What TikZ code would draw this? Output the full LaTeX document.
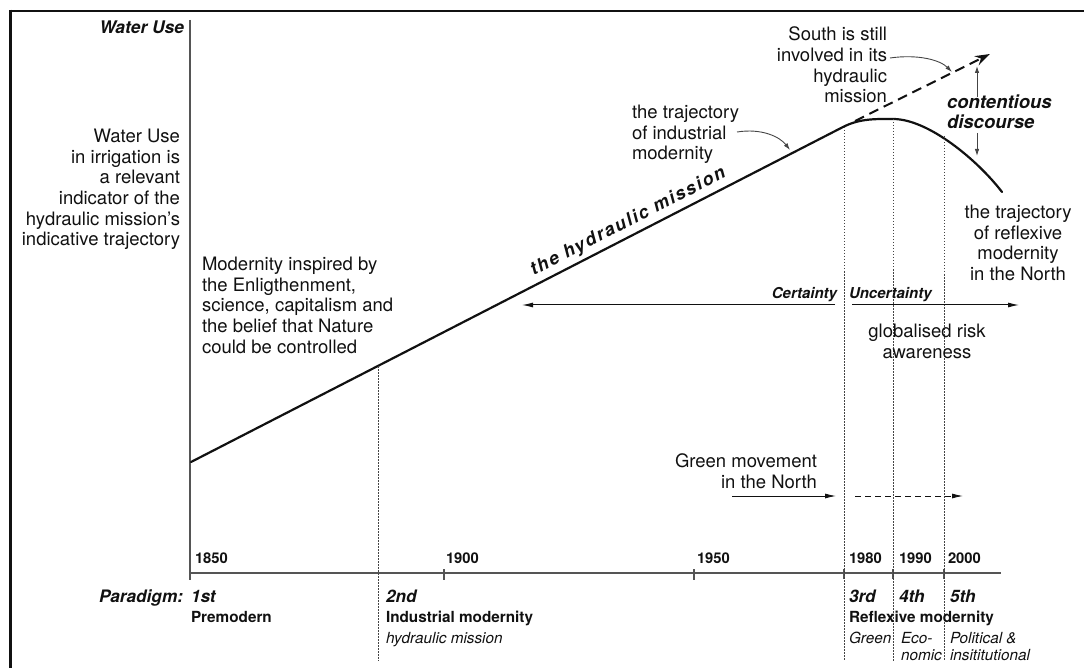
\documentclass[tikz,border=0pt]{standalone}
\usepackage{fontspec}
\setmainfont{TeX Gyre Heros}
\usetikzlibrary{arrows.meta}
\definecolor{ink}{HTML}{111111}
\definecolor{axisgray}{HTML}{555555}
\definecolor{guide}{HTML}{444444}

\begin{document}
\begin{tikzpicture}[x=1pt,y=-1pt,
  every node/.style={inner sep=0pt, outer sep=0pt, text=ink},
  body/.style={font=\fontsize{18.5}{20.7}\selectfont},
  bodybi/.style={font=\fontsize{18.5}{19.5}\selectfont\bfseries\itshape},
  axistitle/.style={font=\fontsize{17.4}{20}\selectfont\bfseries\itshape},
  yearlbl/.style={font=\fontsize{14.8}{17}\selectfont\bfseries, anchor=base west},
  ordinal/.style={font=\fontsize{17.2}{20}\selectfont\bfseries\itshape, anchor=base west},
  eralbl/.style={font=\fontsize{15.3}{17}\selectfont\bfseries, anchor=base west},
  notelbl/.style={font=\fontsize{15.3}{16.5}\selectfont\itshape, align=left, anchor=north west},
  riskside/.style={font=\fontsize{15}{17}\selectfont\bfseries\itshape},
  trend/.style={line width=2.2pt, draw=ink, line cap=round},
  axisline/.style={line width=1.1pt, draw=axisgray},
  guideline/.style={line width=0.9pt, draw=guide, dash pattern=on 1.5pt off 1.5pt},
  pointer/.style={line width=0.9pt, draw=guide, -{Latex[length=7pt,width=4.5pt]}},
  span/.style={line width=1pt, draw=ink, -{Latex[length=11pt,width=5pt]}},
]
\useasboundingbox (0,0) rectangle (1084,668);

% frame (top and left edges only)
\draw[line width=2.5pt, ink] (9,11) -- (1084,11);
\draw[line width=3.5pt, ink] (10.5,9.75) -- (10.5,668);

% axes
\coordinate (ytop) at (190,20);
\coordinate (origin) at (190,573);
\coordinate (xend) at (1001,573);
\draw[axisline] (ytop) -- (origin) -- (xend);
\draw[axisline] (190,573) -- (190,580);
\foreach \tx in {444,694} \draw[axisline] (\tx,569) -- (\tx,580);
\foreach \tx in {844,893,944} \draw[axisline] (\tx,569) -- (\tx,579);

% trajectory of water use
\coordinate (t0) at (191,462);
\coordinate (t1) at (843,127);
\coordinate (peak) at (893,119);
\coordinate (tend) at (1002,192);
\draw[trend] (t0) -- (t1) .. controls (860,118.3) and (876,119) .. (peak)
  .. controls (928,119) and (977,159.5) .. (tend);
\path (t0) -- node[sloped, above=5pt, pos=0.68,
  font=\fontsize{18}{20}\selectfont\bfseries\itshape\addfontfeature{LetterSpace=10}]
  (hm) {the hydraulic mission} (t1);

% paradigm boundaries
\draw[guideline] (378,366) -- (378,661);
\draw[guideline] (844,127) -- (844,661);
\draw[guideline] (893,119) -- (893,661);
\draw[guideline] (944,136) -- (944,661);

% the South continuing its hydraulic mission
\coordinate (s0) at (855,121);
\coordinate (s1) at (990,54);
\draw[line width=2pt, ink, dash pattern=on 10pt off 6pt,
  -{Stealth[length=15pt,width=10pt]}] (s0) -- (s1);

% contentious discourse
\node[bodybi, align=left, anchor=north west] (contest) at (947,95) {contentious\\discourse};
\coordinate (cu0) at (977,97);
\coordinate (cu1) at (977,66);
\coordinate (cd0) at (977,133);
\coordinate (cd1) at (977,156);
\draw[pointer] (cu0) -- (cu1);
\draw[pointer] (cd0) -- (cd1);

% annotations
\node[axistitle, anchor=base east] (ytitle) at (184,33.3) {Water Use};
\node[body, align=right, anchor=north east] (wuse) at (180,129)
  {Water Use\\in irrigation is\\a relevant\\indicator of the\\hydraulic mission’s\\indicative trajectory};
\node[body, align=left, anchor=north west] (enlight) at (202,257)
  {Modernity inspired by\\the Enligthenment,\\science, capitalism and\\the belief that Nature\\could be controlled};

\node[body, align=right, anchor=north east] (south) at (887,27)
  {South is still\\involved in its\\hydraulic\\mission};
\coordinate (sp0) at (890,58);
\coordinate (sp1) at (952,72);
\draw[pointer] (sp0) .. controls (918,54) and (940,60) .. (sp1);

\node[body, align=left, anchor=north west] (indtraj) at (632,105)
  {the trajectory\\of industrial\\modernity};
\coordinate (ip0) at (737,132);
\coordinate (ip1) at (790,150);
\draw[pointer] (ip0) .. controls (762,128) and (780,137) .. (ip1);

\node[body, align=center, anchor=north] (refltraj) at (1018,205)
  {the trajectory\\of reflexive\\modernity\\in the North};

% certainty / uncertainty
\node[riskside, anchor=base east] (cert) at (837,298.4) {Certainty};
\node[riskside, anchor=base west] (uncert) at (849,298.4) {Uncertainty};
\coordinate (c0) at (835,305);
\coordinate (c1) at (522,305);
\coordinate (u0) at (852,305);
\coordinate (u1) at (1019,305);
\draw[span] (c0) -- (c1);
\draw[span] (u0) -- (u1);
\node[body, align=center, anchor=north] (risk) at (927,324) {globalised risk\\awareness};

% green movement
\node[body, align=right, anchor=north east] (green) at (817,454) {Green movement\\in the North};
\coordinate (g0) at (732,496);
\coordinate (g1) at (836,496);
\coordinate (g2) at (855,496);
\coordinate (g3) at (963,496);
\draw[span, line width=0.9pt] (g0) -- (g1);
\draw[span, line width=0.9pt, dash pattern=on 6pt off 4pt] (g2) -- (g3);

% years
\node[yearlbl] (y1850) at (195,563.3) {1850};
\node[yearlbl] (y1900) at (446,563.3) {1900};
\node[yearlbl] (y1950) at (697,563.3) {1950};
\node[yearlbl] (y1980) at (849,563.3) {1980};
\node[yearlbl] (y1990) at (899,563.3) {1990};
\node[yearlbl] (y2000) at (948,563.3) {2000};

% paradigms
\node[ordinal, anchor=base east] (paradigm) at (183,602.7) {Paradigm:};
\node[ordinal] (p1) at (191,602.7) {1st};
\node[ordinal] (p2) at (386,602.7) {2nd};
\node[ordinal] (p3) at (849,602.7) {3rd};
\node[ordinal] (p4) at (899,602.7) {4th};
\node[ordinal] (p5) at (950,602.7) {5th};
\node[eralbl] (e1) at (191,622.5) {Premodern};
\node[eralbl] (e2) at (386,622.5) {Industrial modernity};
\node[eralbl] (e3) at (849,622.5) {Reflexive modernity};
\node[notelbl] (n2) at (386,632.5) {hydraulic mission};
\node[notelbl] (n3) at (849,632.5) {Green};
\node[notelbl] (n4) at (901,632.5) {Eco-\\nomic};
\node[notelbl] (n5) at (950,632.5) {Political \&\\insititutional};
\end{tikzpicture}
\end{document}
